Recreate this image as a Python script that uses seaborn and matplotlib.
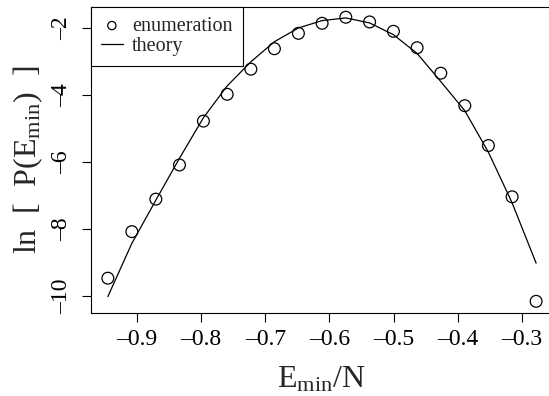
import matplotlib
matplotlib.use("Agg")
import matplotlib.pyplot as plt
import seaborn as sns
import pandas as pd

# Data
energy = [-0.9452, -0.9078, -0.8704, -0.8336, -0.7963, -0.7593, -0.7224,
          -0.6857, -0.6483, -0.6114, -0.5745, -0.5374, -0.5003, -0.4634,
          -0.4265, -0.3891, -0.3523, -0.3154, -0.2780]
enumeration = [-9.46, -8.07, -7.10, -6.08, -4.77, -3.97, -3.22, -2.61,
               -2.15, -1.85, -1.67, -1.81, -2.09, -2.58, -3.34, -4.31,
               -5.50, -7.03, -10.15]
theory = [-10.01, -8.42, -7.13, -5.88, -4.67, -3.72, -3.00, -2.40,
          -1.99, -1.77, -1.69, -1.84, -2.19, -2.75, -3.59, -4.46,
          -5.70, -7.21, -9.01]
xticks = [-0.9, -0.8, -0.7, -0.6, -0.5, -0.4, -0.3]
yticks = [-10, -8, -6, -4, -2]

df = pd.DataFrame({"E": energy, "enum": enumeration, "theory": theory})

sns.set_theme(style="ticks")
plt.rcParams["font.family"] = ["Liberation Serif", "DejaVu Serif"]
plt.rcParams["mathtext.fontset"] = "custom"
plt.rcParams["mathtext.rm"] = "Liberation Serif"
plt.rcParams["mathtext.it"] = "Liberation Serif:italic"

fig = plt.figure(figsize=(5.49, 3.96), dpi=100)
ax = fig.add_axes([90.7 / 549, (396 - 312.7) / 396, 462.1 / 549, 306 / 396])

sns.lineplot(data=df, x="E", y="theory", ax=ax, color="black", lw=0.9,
             label="theory", legend=False)
sns.scatterplot(data=df, x="E", y="enum", ax=ax, marker="o", s=72,
                facecolor="none", edgecolor="black", linewidth=0.9,
                label="enumeration", legend=False)

ax.set_xlim(-0.9719, -0.2520)
ax.set_ylim(-10.49, -1.355)
ax.set_xticks(xticks)
ax.set_yticks(yticks)
ax.set_xticklabels(["\u2013" + f"{abs(v):.1f}" for v in xticks])
ax.set_yticklabels(["\u2013" + f"{abs(v)}" for v in yticks])
ax.tick_params(axis="both", direction="out", length=6.5, width=0.8,
               colors="black", labelsize=17)
ax.tick_params(axis="x", pad=5)
ax.tick_params(axis="y", pad=7, labelrotation=90)
for t in ax.get_yticklabels():
    t.set_va("center")

for s in ax.spines.values():
    s.set_visible(True)
    s.set_color("black")
    s.set_linewidth(0.8)

ax.set_xlabel(r"$\mathrm{E_{min}}$/N", fontsize=23)
ax.set_ylabel(r"ln  [  P($\mathrm{E_{min}}$)  ]", fontsize=23)
ax.xaxis.set_label_coords(0.5, -0.22)
ax.yaxis.set_label_coords(-0.135, 0.5)
ax.xaxis.label.set_va("center")
ax.yaxis.label.set_va("center")

h, l = ax.get_legend_handles_labels()
order = [l.index("enumeration"), l.index("theory")]
leg = ax.legend([h[i] for i in order], [l[i] for i in order], loc="upper left",
                bbox_to_anchor=(0, 1), borderaxespad=0, fontsize=14.5,
                frameon=True, fancybox=False, framealpha=1, edgecolor="black",
                handlelength=1.1, handletextpad=0.45, labelspacing=0.05,
                borderpad=0.5, markerscale=0.7)
leg.get_frame().set_linewidth(0.8)

fig.savefig("out.png", dpi=100)
